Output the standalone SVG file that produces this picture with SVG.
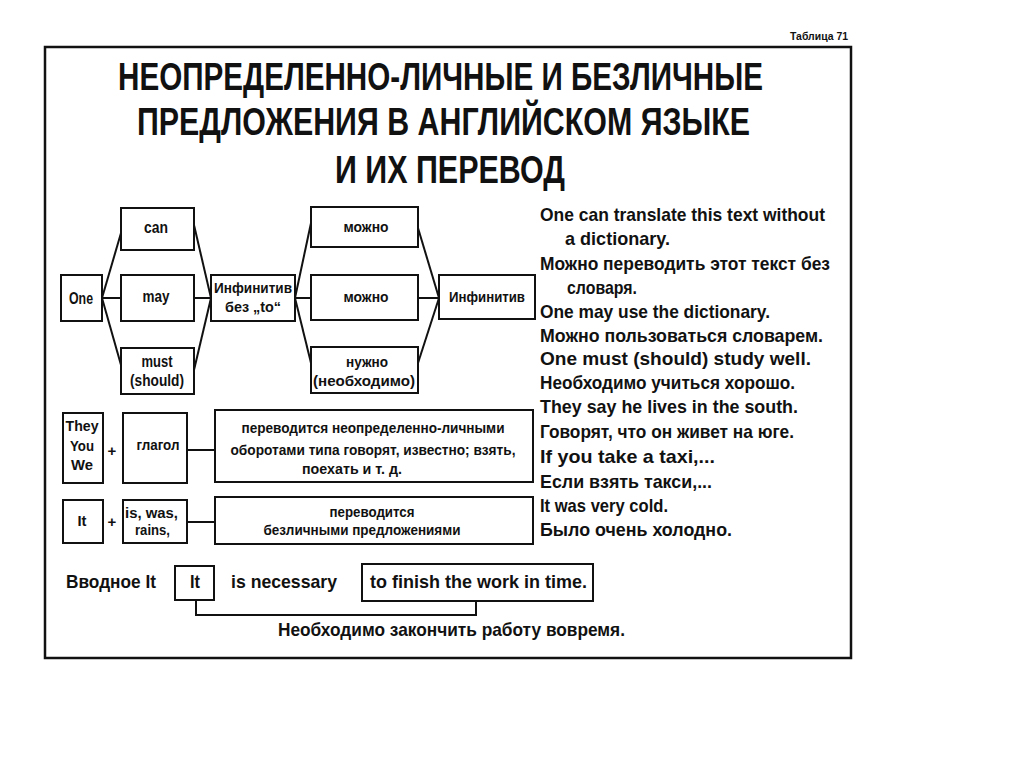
<svg xmlns="http://www.w3.org/2000/svg" width="1024" height="767" viewBox="0 0 1024 767">
<style>
.bg{fill:#fff}
.frame{fill:none;stroke:#111;stroke-width:2.5}
.box{fill:#fff;stroke:#111;stroke-width:2}
.ln{fill:none;stroke:#111;stroke-width:2}
text{font-family:"Liberation Sans",Arial,sans-serif;font-weight:bold;fill:#111}
.c{text-anchor:middle}
.s15{font-size:16px}
.s14{font-size:15px}
.s18{font-size:18.5px}
.title{font-size:39px}
</style>
<rect class="bg" x="0" y="0" width="1024" height="767"/>
<rect class="frame" x="45" y="47" width="806" height="611"/>
<text x="790" y="40" font-size="10" textLength="58" lengthAdjust="spacingAndGlyphs">Таблица 71</text>
<g id="title">
<text class="title" x="118" y="90" textLength="645" lengthAdjust="spacingAndGlyphs">НЕОПРЕДЕЛЕННО-ЛИЧНЫЕ И БЕЗЛИЧНЫЕ</text>
<text class="title" x="137" y="135" textLength="613" lengthAdjust="spacingAndGlyphs">ПРЕДЛОЖЕНИЯ В АНГЛИЙСКОМ ЯЗЫКЕ</text>
<text class="title" x="335" y="183" textLength="230" lengthAdjust="spacingAndGlyphs">И ИХ ПЕРЕВОД</text>
</g>
<g id="connectors">
<line class="ln" x1="102" y1="298" x2="121" y2="233"/>
<line class="ln" x1="102" y1="298" x2="121" y2="298"/>
<line class="ln" x1="102" y1="298" x2="121" y2="365"/>
<line class="ln" x1="194" y1="225" x2="211" y2="298"/>
<line class="ln" x1="194" y1="298" x2="211" y2="298"/>
<line class="ln" x1="194" y1="370" x2="211" y2="298"/>
<line class="ln" x1="295" y1="298" x2="311" y2="223"/>
<line class="ln" x1="295" y1="298" x2="311" y2="298"/>
<line class="ln" x1="295" y1="298" x2="311" y2="363"/>
<line class="ln" x1="418" y1="228" x2="439" y2="298"/>
<line class="ln" x1="418" y1="298" x2="439" y2="298"/>
<line class="ln" x1="418" y1="363" x2="439" y2="298"/>
<line class="ln" x1="187" y1="450" x2="215" y2="450"/>
<line class="ln" x1="187" y1="522" x2="215" y2="522"/>
<polyline class="ln" points="196,600 196,615 476,615 476,601"/>
</g>
<g id="n-one"><rect class="box" x="61" y="275" width="41" height="46"/><text class="c s15" x="81" y="304" textLength="24" lengthAdjust="spacingAndGlyphs">One</text></g>
<g id="n-can"><rect class="box" x="121" y="208" width="73" height="42"/><text class="c s15" x="156" y="233" textLength="24" lengthAdjust="spacingAndGlyphs">can</text></g>
<g id="n-may"><rect class="box" x="121" y="275" width="73" height="46"/><text class="c s15" x="156" y="302" textLength="27" lengthAdjust="spacingAndGlyphs">may</text></g>
<g id="n-must"><rect class="box" x="121" y="348" width="73" height="46"/><text class="c s15" x="157" y="367" textLength="31" lengthAdjust="spacingAndGlyphs">must</text><text class="c s15" x="157" y="386" textLength="54" lengthAdjust="spacingAndGlyphs">(should)</text></g>
<g id="n-inf-to"><rect class="box" x="211" y="275" width="84" height="46"/><text class="c s14" x="253" y="293" textLength="78" lengthAdjust="spacingAndGlyphs">Инфинитив</text><text class="c s14" x="253" y="312" textLength="56" lengthAdjust="spacingAndGlyphs">без „to“</text></g>
<g id="n-mozhno1"><rect class="box" x="311" y="207" width="107" height="40"/><text class="c s14" x="366" y="232" textLength="45" lengthAdjust="spacingAndGlyphs">можно</text></g>
<g id="n-mozhno2"><rect class="box" x="311" y="275" width="107" height="45"/><text class="c s14" x="366" y="302" textLength="45" lengthAdjust="spacingAndGlyphs">можно</text></g>
<g id="n-nuzhno"><rect class="box" x="311" y="347" width="107" height="46"/><text class="c s14" x="367" y="367" textLength="42" lengthAdjust="spacingAndGlyphs">нужно</text><text class="c s14" x="364" y="386" textLength="102" lengthAdjust="spacingAndGlyphs">(необходимо)</text></g>
<g id="n-inf"><rect class="box" x="439" y="275" width="96" height="44"/><text class="c s14" x="487" y="302" textLength="76" lengthAdjust="spacingAndGlyphs">Инфинитив</text></g>
<g id="n-they"><rect class="box" x="63" y="413" width="40" height="70"/><text class="c s14" x="82" y="431" textLength="33" lengthAdjust="spacingAndGlyphs">They</text><text class="c s14" x="82" y="451" textLength="24" lengthAdjust="spacingAndGlyphs">You</text><text class="c s14" x="82" y="470" textLength="22" lengthAdjust="spacingAndGlyphs">We</text></g>
<text class="c s14" x="112" y="456">+</text>
<g id="n-glagol"><rect class="box" x="123" y="413" width="64" height="70"/><text class="c s14" x="158" y="450" textLength="43" lengthAdjust="spacingAndGlyphs">глагол</text></g>
<g id="n-perev1"><rect class="box" x="215" y="410" width="318" height="72"/><text class="c s14" x="373" y="433" textLength="263" lengthAdjust="spacingAndGlyphs">переводится неопределенно-личными</text><text class="c s14" x="373" y="455" textLength="285" lengthAdjust="spacingAndGlyphs">оборотами типа говорят, известно; взять,</text><text class="c s14" x="352" y="474" textLength="100" lengthAdjust="spacingAndGlyphs">поехать и т. д.</text></g>
<g id="n-it"><rect class="box" x="63" y="500" width="40" height="43"/><text class="c s14" x="82" y="526" textLength="9" lengthAdjust="spacingAndGlyphs">It</text></g>
<text class="c s14" x="112" y="527">+</text>
<g id="n-iswas"><rect class="box" x="123" y="500" width="64" height="43"/><text class="s14" x="125" y="518" textLength="53" lengthAdjust="spacingAndGlyphs">is, was,</text><text class="s14" x="135" y="535" textLength="35" lengthAdjust="spacingAndGlyphs">rains,</text></g>
<g id="n-perev2"><rect class="box" x="215" y="497" width="318" height="47"/><text class="c s14" x="372" y="517" textLength="85" lengthAdjust="spacingAndGlyphs">переводится</text><text class="c s14" x="362" y="535" textLength="197" lengthAdjust="spacingAndGlyphs">безличными предложениями</text></g>
<g id="intro">
<text class="s18" x="66" y="588" textLength="90" lengthAdjust="spacingAndGlyphs">Вводное It</text>
<g id="n-it2"><rect class="box" x="175" y="566" width="39" height="34"/><text class="c s18" x="195" y="588" textLength="10" lengthAdjust="spacingAndGlyphs">It</text></g>
<text class="s18" x="231" y="588" textLength="106" lengthAdjust="spacingAndGlyphs">is necessary</text>
<g id="n-tofinish"><rect class="box" x="362" y="564" width="231" height="37"/><text class="s18" x="370" y="588" textLength="217" lengthAdjust="spacingAndGlyphs">to finish the work in time.</text></g>
<text class="s18" x="278" y="636" textLength="347" lengthAdjust="spacingAndGlyphs">Необходимо закончить работу вовремя.</text>
</g>
<g id="examples" class="s18">
<text x="540" y="221" textLength="285" lengthAdjust="spacingAndGlyphs">One can translate this text without</text>
<text x="565" y="245" textLength="105" lengthAdjust="spacingAndGlyphs">a dictionary.</text>
<text x="540" y="270" textLength="290" lengthAdjust="spacingAndGlyphs">Можно переводить этот текст без</text>
<text x="567" y="294" textLength="70" lengthAdjust="spacingAndGlyphs">словаря.</text>
<text x="540" y="318" textLength="230" lengthAdjust="spacingAndGlyphs">One may use the dictionary.</text>
<text x="540" y="342" textLength="283" lengthAdjust="spacingAndGlyphs">Можно пользоваться словарем.</text>
<text x="540" y="365" textLength="271" lengthAdjust="spacingAndGlyphs">One must (should) study well.</text>
<text x="540" y="389" textLength="255" lengthAdjust="spacingAndGlyphs">Необходимо учиться хорошо.</text>
<text x="540" y="413" textLength="258" lengthAdjust="spacingAndGlyphs">They say he lives in the south.</text>
<text x="540" y="438" textLength="254" lengthAdjust="spacingAndGlyphs">Говорят, что он живет на юге.</text>
<text x="540" y="463" textLength="175" lengthAdjust="spacingAndGlyphs">If you take a taxi,...</text>
<text x="540" y="488" textLength="172" lengthAdjust="spacingAndGlyphs">Если взять такси,...</text>
<text x="540" y="512" textLength="128" lengthAdjust="spacingAndGlyphs">It was very cold.</text>
<text x="540" y="536" textLength="192" lengthAdjust="spacingAndGlyphs">Было очень холодно.</text>
</g>
</svg>
